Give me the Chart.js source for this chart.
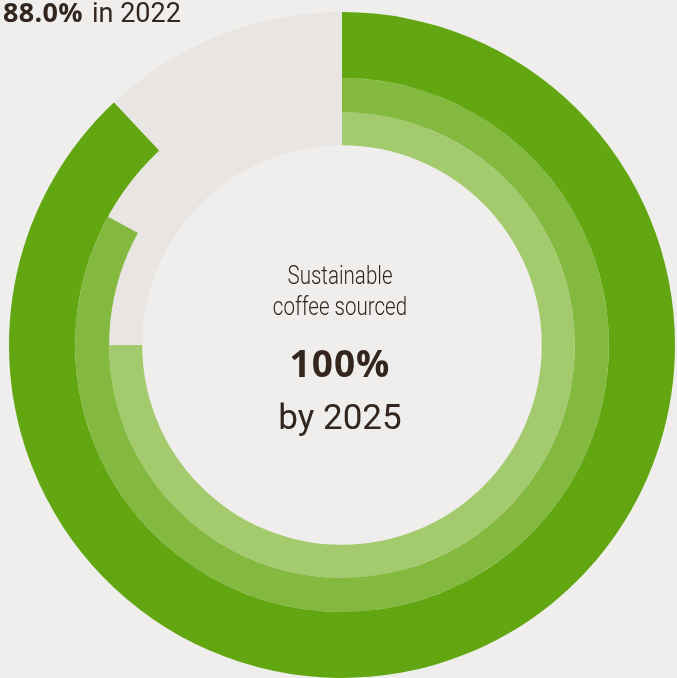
<!DOCTYPE html>
<html>
<head>
<meta charset="utf-8">
<script src="https://cdn.jsdelivr.net/npm/chart.js@4.4.1/dist/chart.umd.min.js"></script>
<style>
  html, body { margin: 0; padding: 0; background: #efeeec; }
  body { width: 677px; height: 678px; position: relative; overflow: hidden; }
  #ring { position: absolute; left: 9px; top: 12px; }
  .txt { position: absolute; color: #33261f; white-space: nowrap; line-height: 1; }
  .mid { left: 240px; width: 200px; text-align: center; }
  #pct { left: 3px; top: -7px; font: 700 27px 'Open Sans', sans-serif; letter-spacing: 0.3px; }
  #when { left: 92px; top: -3px; font: 400 27px Roboto, sans-serif; }
  .label { font: 300 26px Roboto, sans-serif; transform: scaleX(0.79); transform-origin: 100px 0; }
  #l1 { top: 260px; }
  #l2 { top: 291px; }
  #target { top: 337px; font: 700 37px 'Open Sans', sans-serif; letter-spacing: 1px; }
  #year { top: 397px; font: 400 35px Roboto, sans-serif; }
</style>
</head>
<body>
<canvas id="ring" width="666" height="666"></canvas>
<div class="txt" id="pct">88.0%</div>
<div class="txt" id="when">in 2022</div>
<div class="txt mid label" id="l1">Sustainable</div>
<div class="txt mid label" id="l2">coffee sourced</div>
<div class="txt mid" id="target">100%</div>
<div class="txt mid" id="year">by 2025</div>
<script>
/* ---------- Data (outer ring first) ---------- */
const years  = ['2022', '2021', '2020'];
const shares = [88.0, 83.0, 75.0];
const ringColors = ['#62a712', '#84b940', '#a3cb6e'];
const ringWeights = [66, 34, 33];
const trackColor = '#e8e5e2';

const datasets = shares.map((v, i) => ({
  label: years[i],
  data: [v, 100 - v],
  backgroundColor: [ringColors[i], trackColor],
  borderWidth: 0,
  hoverOffset: 0,
  weight: ringWeights[i]
}));

new Chart(document.getElementById('ring'), {
  type: 'doughnut',
  data: { labels: ['Sustainable', 'Other'], datasets },
  options: {
    responsive: false,
    animation: false,
    cutout: '60%',
    layout: { padding: 0 },
    plugins: {
      legend: { display: false },
      tooltip: { enabled: false }
    }
  }
});
</script>
</body>
</html>
